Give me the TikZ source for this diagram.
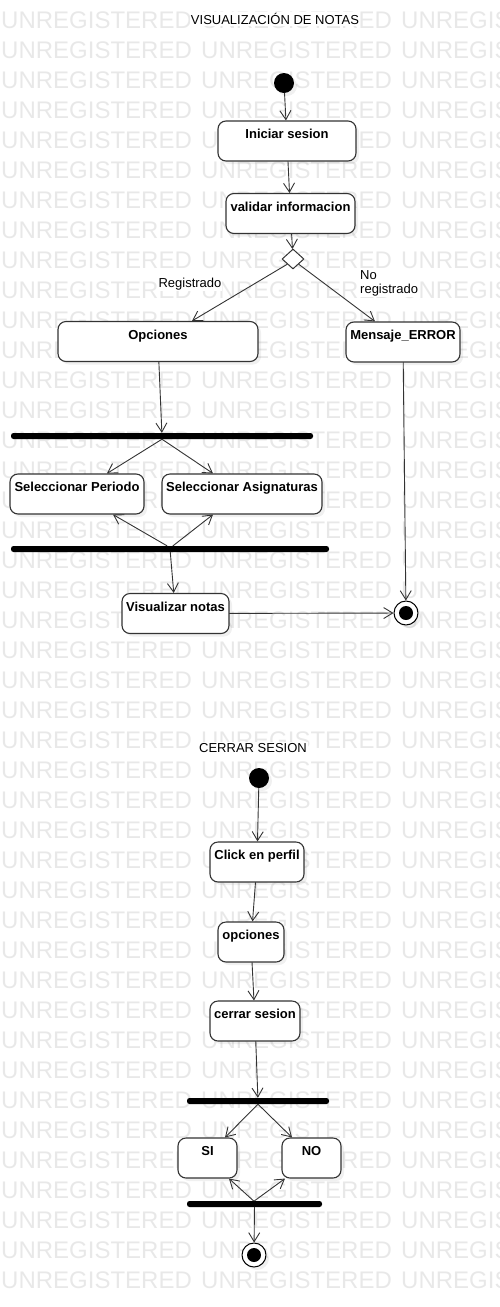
\documentclass[tikz,border=0pt]{standalone}
\usepackage{fontspec}
\setmainfont{Liberation Sans}
\usetikzlibrary{arrows.meta}
\usetikzlibrary{shapes.geometric}
\usetikzlibrary{shadows}
\definecolor{wmgray}{rgb}{0.91,0.91,0.91}
\definecolor{linegray}{rgb}{0.2,0.2,0.2}

\begin{document}
\begin{tikzpicture}[x=1pt,y=-1pt, line cap=round, line join=round,
  act/.style={draw=linegray, line width=1.1pt, rounded corners=8pt, fill=white,
    drop shadow={shadow xshift=3pt, shadow yshift=-3pt, opacity=0.12},
    font=\fontsize{13}{15}\selectfont\bfseries, inner sep=0pt,
    text height=17.5pt, text depth=22.5pt, minimum height=40pt},
  bar/.style={fill=black, rounded corners=2.5pt, minimum height=6pt, inner sep=0pt},
  initial/.style={circle, fill=black, minimum size=20pt, inner sep=0pt,
    drop shadow={shadow xshift=3pt, shadow yshift=-3pt, opacity=0.12}},
  final/.style={circle, draw=black, line width=1pt, fill=white, minimum size=24pt, inner sep=0pt,
    drop shadow={shadow xshift=3pt, shadow yshift=-3pt, opacity=0.12},
    path picture={\fill[black] (path picture bounding box.center) circle (7pt);}},
  decision/.style={diamond, draw=linegray, line width=1pt, fill=white,
    minimum width=22pt, minimum height=20pt, inner sep=0pt},
  flow/.style={draw=linegray, line width=0.9pt, -{Straight Barb[length=9pt, width=11pt]}},
  lbl/.style={fill=white, inner sep=1pt, font=\fontsize{13}{14}\selectfont},
  wm/.style={text=wmgray, font=\fontsize{24}{24}\selectfont, anchor=west, inner sep=0pt}]
\useasboundingbox (0,0) rectangle (500,1307);
\clip (0,0) rectangle (500,1307);
% watermark
\foreach \row in {0,...,42}
  \foreach \col in {0,1,2}
    \node[wm] at (\col*200+1, 20+\row*30) {UNREGISTERED};

% visualizacion de notas
\node[lbl] (titulo1) at (275,19) {VISUALIZACIÓN DE NOTAS};
\node[initial] (start1) at (284,83) {};
\node[act, minimum width=138pt] (iniciar) at (287,141) {Iniciar sesion};
\node[act, minimum width=129pt] (validar) at (290.5,213.5) {validar informacion};
\node[decision] (dec) at (293,259) {};
\node[act, minimum width=200pt] (opciones) at (158,341.5) {Opciones};
\node[act, minimum width=114pt] (error) at (403,342) {Mensaje\_ERROR};
\node[bar, minimum width=302pt] (fork1) at (162,436) {};
\node[act, minimum width=134pt] (periodo) at (77,494) {Seleccionar Periodo};
\node[act, minimum width=160pt] (asign) at (242,494) {Seleccionar Asignaturas};
\node[bar, minimum width=318pt] (join1) at (170,549) {};
\node[act, minimum width=107pt] (visual) at (175.5,613.5) {Visualizar notas};
\node[final] (end1) at (406,613) {};
\node[lbl] (reg) at (190,284) {Registrado};
\node[lbl, align=left, anchor=west] (noreg) at (359,283) {No\\registrado};

\draw[flow] (start1) -- (iniciar);
\draw[flow] (iniciar) -- (validar);
\draw[flow] (validar) -- (dec);
\draw[flow] (dec.south west) -- ([xshift=34pt]opciones.north);
\draw[flow] (dec.south east) -- ([xshift=-28pt]error.north);
\draw[flow] (opciones) -- (fork1);
\draw[flow] (fork1.south) -- ([xshift=30pt]periodo.north);
\draw[flow] (fork1.south) -- ([xshift=-29pt]asign.north);
\draw[flow] ([xshift=-3pt]join1.north) -- ([xshift=36pt]periodo.south);
\draw[flow] ([xshift=3pt]join1.north) -- ([xshift=-29pt]asign.south);
\draw[flow] (join1) -- (visual);
\draw[flow] (visual) -- (end1);
\draw[flow] (error) -- (end1);

% cerrar sesion
\node[lbl] (titulo2) at (253,748) {CERRAR SESION};
\node[initial] (start2) at (259,778) {};
\node[act, minimum width=94pt] (click) at (257,862) {Click en perfil};
\node[act, minimum width=66pt] (opc2) at (251,942) {opciones};
\node[act, minimum width=90pt] (cerrar) at (255,1021) {cerrar sesion};
\node[bar, minimum width=142pt] (fork2) at (258,1101) {};
\node[act, minimum width=59pt] (si) at (207.5,1158) {SI};
\node[act, minimum width=59pt] (no) at (311.5,1158) {NO};
\node[bar, minimum width=135pt] (join2) at (254.5,1204) {};
\node[final] (end2) at (254,1255) {};

\draw[flow] (start2) -- (click);
\draw[flow] (click) -- (opc2);
\draw[flow] (opc2) -- (cerrar);
\draw[flow] (cerrar) -- (fork2);
\draw[flow] (fork2.south) -- ([xshift=17.5pt]si.north);
\draw[flow] (fork2.south) -- ([xshift=-19.5pt]no.north);
\draw[flow] ([xshift=-1pt]join2.north) -- ([xshift=21.5pt]si.south);
\draw[flow] (join2.north) -- ([xshift=-26.5pt]no.south);
\draw[flow] (join2) -- (end2);
\end{tikzpicture}
\end{document}
